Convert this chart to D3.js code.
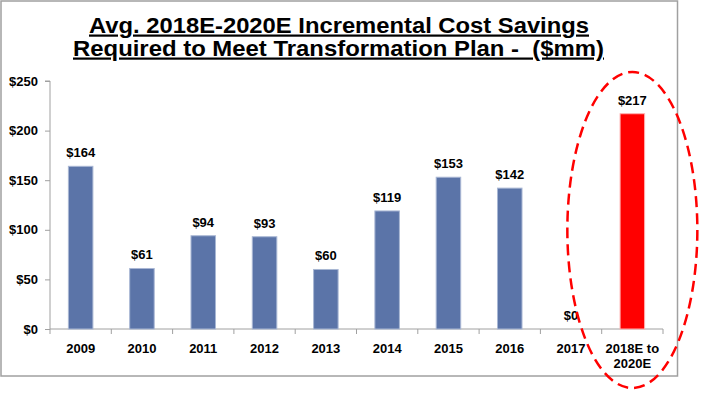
<!DOCTYPE html>
<html><head><meta charset="utf-8">
<script src="https://cdn.jsdelivr.net/npm/d3@7"></script>
<style>body{margin:0;background:#fff}svg{display:block}</style>
</head><body><svg id="c" width="720" height="396"></svg>
<script>
const categories = ["2009","2010","2011","2012","2013","2014","2015","2016","2017","2018E to\n2020E"];
const values = [164,61,94,93,60,119,153,142,0,217];
const yTicks = [0,50,100,150,200,250];
const titleLines = ["Avg. 2018E-2020E Incremental Cost Savings","Required to Meet Transformation Plan -\u00a0 ($mm)"];

const svg = d3.select("#c");
const font = "'Liberation Sans',Arial,sans-serif";
svg.append("rect").attr("x",1).attr("y",1).attr("width",676.5).attr("height",375).attr("fill","#fff").attr("stroke","#a0a0a0").attr("stroke-width",1.5);

const x = d3.scaleBand().domain(categories).range([50,663]).paddingInner(0.6).paddingOuter(0.3);
const xb = d3.scaleBand().domain(categories).range([50,663]);
const y = d3.scaleLinear().domain([0,250]).range([329,81]);

// title
const tl = [[89,500,32.5],[73,531,55.5]];
titleLines.forEach((l,i)=>{
  svg.append("text").attr("x",tl[i][0]).attr("y",tl[i][2])
    .attr("textLength",tl[i][1]).attr("lengthAdjust","spacingAndGlyphs")
    .attr("font-family",font).attr("font-weight","bold").attr("font-size",22).attr("fill","#000")
    .attr("text-decoration","underline").text(l);
});

// y axis
const ya = svg.append("g").attr("transform","translate(50,0)").call(d3.axisLeft(y).tickValues(yTicks).tickSize(5).tickPadding(7).tickFormat(d=>"$"+d));
ya.select(".domain").attr("stroke","#a0a0a0").attr("d","M-5,81H0V329");
ya.selectAll(".tick line").attr("stroke","#a0a0a0");
ya.selectAll("text").attr("font-family",font).attr("font-weight","bold").attr("font-size",13).attr("fill","#000");

// x axis
const xa = svg.append("g").attr("transform","translate(0,329)");
xa.append("line").attr("x1",50).attr("x2",663).attr("stroke","#a0a0a0");
xa.selectAll(".tk").data(categories.concat(["_end"])).join("line")
  .attr("x1",(d,i)=>i<categories.length?xb(d):663).attr("x2",(d,i)=>i<categories.length?xb(d):663)
  .attr("y1",0).attr("y2",5).attr("stroke","#a0a0a0");
xa.selectAll(".lab").data(categories).join("text")
  .attr("text-anchor","middle").attr("font-family",font).attr("font-weight","bold").attr("font-size",13).attr("fill","#000")
  .each(function(d){
    const el=d3.select(this);
    d.split("\n").forEach((p,i)=>el.append("tspan").attr("x",x(d)+x.bandwidth()/2).attr("y",24+i*15).text(p));
  });

// bars
svg.selectAll(".bar").data(values).join("rect")
  .attr("x",(d,i)=>x(categories[i])).attr("width",x.bandwidth())
  .attr("y",d=>y(d)).attr("height",d=>y(0)-y(d))
  .attr("fill",(d,i)=>i===values.length-1?"#ff0000":"#5b74a8")
  .attr("stroke",(d,i)=>i===values.length-1?"#ffb0b0":"#a9b7d4").attr("stroke-width",1);

svg.selectAll(".vl").data(values).join("text")
  .attr("x",(d,i)=>x(categories[i])+x.bandwidth()/2).attr("y",d=>y(d)-9)
  .attr("text-anchor","middle").attr("font-family",font).attr("font-weight","bold").attr("font-size",13).attr("fill","#000")
  .text(d=>"$"+d);

// ellipse
const last = categories[categories.length-1];
svg.append("ellipse").attr("cx",x(last)+x.bandwidth()/2).attr("cy",230).attr("rx",65).attr("ry",158)
  .attr("fill","none").attr("stroke","#ff0000").attr("stroke-width",2.5).attr("stroke-dasharray","11,6");
</script></body></html>
